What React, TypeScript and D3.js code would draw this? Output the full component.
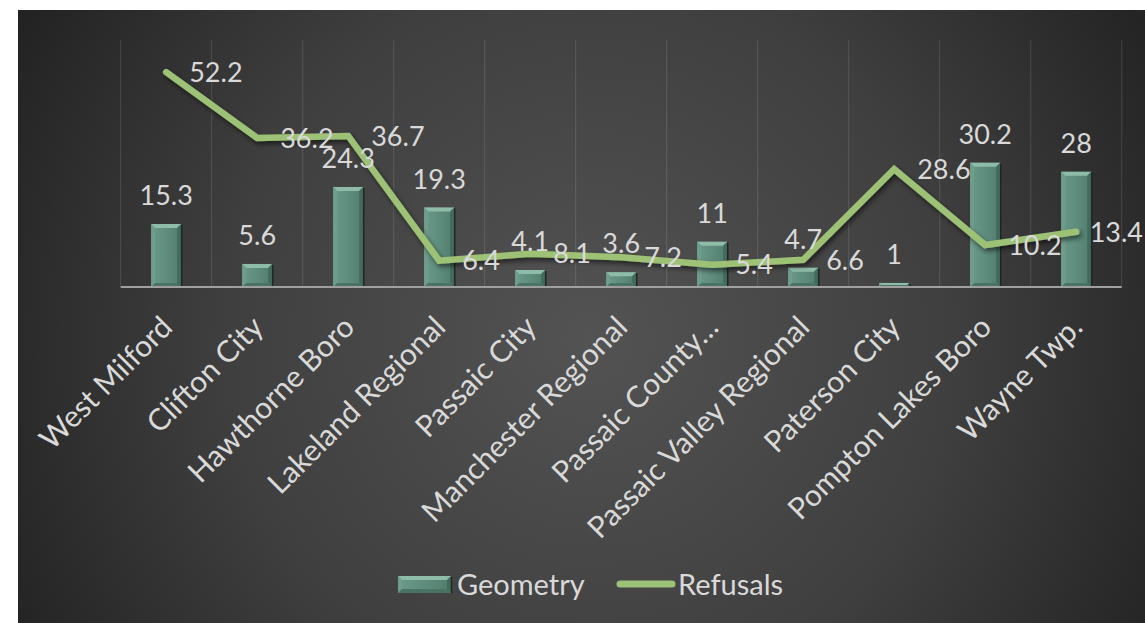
import React from "react";
import * as d3 from "d3";

const categories = [
  "West Milford",
  "Clifton City",
  "Hawthorne Boro",
  "Lakeland Regional",
  "Passaic City",
  "Manchester Regional",
  "Passaic County…",
  "Passaic Valley Regional",
  "Paterson City",
  "Pompton Lakes Boro",
  "Wayne Twp.",
];
const geometry = [15.3, 5.6, 24.3, 19.3, 4.1, 3.6, 11, 4.7, 1, 30.2, 28];
const refusals = [52.2, 36.2, 36.7, 6.4, 8.1, 7.2, 5.4, 6.6, 28.6, 10.2, 13.4];
const yDomain = [0, 60];
const seriesNames = ["Geometry", "Refusals"];

const W = 1145;
const H = 623;
const FONT = "'Gill Sans', 'Gill Sans MT', Lato, 'Open Sans', sans-serif";
const TEXT = "#d9d9d9";
const LINE = "#9dc275";
const LABEL_SIZE = 27;
const CAT_SIZE = 30;
const LEGEND_SIZE = 29;

let measureCtx: CanvasRenderingContext2D | null = null;
function textWidth(s: string, size: number): number {
  if (!measureCtx && typeof document !== "undefined") {
    measureCtx = document.createElement("canvas").getContext("2d");
  }
  if (!measureCtx) return s.length * size * 0.55;
  measureCtx.font = `${size}px Lato, sans-serif`;
  return measureCtx.measureText(s).width;
}

function BevelBar({ x, y, w, h, id }: { x: number; y: number; w: number; h: number; id: string }) {
  const b = Math.min(4, h / 2, w / 2);
  return (
    <g>
      <rect x={x} y={y} width={w} height={h} fill={`url(#${id})`} />
      <polygon points={`${x},${y} ${x + w},${y} ${x + w - b},${y + b} ${x + b},${y + b}`} fill="#8fbca9" />
      <polygon points={`${x},${y} ${x + b},${y + b} ${x + b},${y + h - b} ${x},${y + h}`} fill="#6f9d8b" />
      <polygon points={`${x + w},${y} ${x + w},${y + h} ${x + w - b},${y + h - b} ${x + w - b},${y + b}`} fill="#436a5c" />
      <polygon points={`${x},${y + h} ${x + b},${y + h - b} ${x + w - b},${y + h - b} ${x + w},${y + h}`} fill="#4b7364" />
      <line x1={x + w + 0.5} x2={x + w + 0.5} y1={y + 1} y2={y + h} stroke="#1c2824" strokeWidth={1.5} />
    </g>
  );
}

export default function App() {
  const x0 = 120.7;
  const x1 = 1121.7;
  const yTop = 40;
  const yBot = 287;

  const x = d3.scaleBand<string>().domain(categories).range([x0, x1]).padding(0);
  const y = d3.scaleLinear().domain(yDomain).range([yBot, yTop]);
  const bw = x.bandwidth();
  const barW = bw * 0.33;
  const cx = (c: string) => (x(c) as number) + bw / 2;

  const linePath = d3
    .line<number>()
    .x((_, i) => cx(categories[i]))
    .y((d) => y(d))(refusals) as string;

  const gridXs = categories.map((c) => x(c) as number).concat([x1]);

  return (
    <svg
      width={W}
      height={H}
      style={{ position: "absolute", left: 0, top: 0, display: "block" }}
      fontFamily={FONT}
    >
      <defs>
        <radialGradient id="bg" gradientUnits="userSpaceOnUse" cx={590} cy={340} r={660}>
          <stop offset="0" stopColor="#535353" />
          <stop offset="0.55" stopColor="#3f3f3f" />
          <stop offset="1" stopColor="#222222" />
        </radialGradient>
        <linearGradient id="barFace" x1="0" x2="1" y1="0" y2="0">
          <stop offset="0" stopColor="#6a998a" />
          <stop offset="0.5" stopColor="#5f8d7d" />
          <stop offset="1" stopColor="#527c6d" />
        </linearGradient>
        <filter id="shadow" x="-10%" y="-20%" width="120%" height="150%">
          <feDropShadow dx="2" dy="3" stdDeviation="2.5" floodColor="#000" floodOpacity="0.55" />
        </filter>
      </defs>
      <rect x={0} y={0} width={W} height={H} fill="#ffffff" />
      <rect x={18} y={10} width={W - 18} height={H - 10} fill="url(#bg)" />

      {gridXs.map((gx, i) => (
        <line key={i} x1={gx} x2={gx} y1={yTop} y2={yBot} stroke="#ffffff" strokeOpacity={0.13} strokeWidth={1} />
      ))}

      {geometry.map((v, i) => {
        const c = categories[i];
        const bx = cx(c) - barW / 2;
        const by = y(v);
        return <BevelBar key={i} id="barFace" x={bx} y={by} w={barW} h={yBot - by} />;
      })}

      <line x1={x0} x2={x1} y1={yBot} y2={yBot} stroke="#a0a0a0" strokeWidth={2} />

      <path
        d={linePath}
        fill="none"
        stroke={LINE}
        strokeWidth={6.5}
        strokeLinejoin="miter"
        strokeLinecap="round"
        filter="url(#shadow)"
      />

      {geometry.map((v, i) => (
        <text
          key={`gl${i}`}
          x={cx(categories[i])}
          y={y(v) - 19}
          textAnchor="middle"
          fontSize={LABEL_SIZE}
          fill={TEXT}
        >
          {String(v)}
        </text>
      ))}

      {refusals.map((v, i) => {
        const s = String(v);
        const tw = textWidth(s, LABEL_SIZE);
        const lx = Math.min(cx(categories[i]) + 23, W - 2 - tw);
        return (
          <text
            key={`rl${i}`}
            x={lx}
            y={y(v)}
            dy="0.36em"
            textAnchor="start"
            fontSize={LABEL_SIZE}
            fill={TEXT}
          >
            {s}
          </text>
        );
      })}

      {categories.map((c, i) => (
        <text
          key={`c${i}`}
          transform={`translate(${cx(c) + 8},${yBot + 42}) rotate(-45)`}
          textAnchor="end"
          fontSize={CAT_SIZE}
          fill={TEXT}
        >
          {c}
        </text>
      ))}

      <g>
        <BevelBar id="barFace" x={398} y={576} w={53} h={17} />
        <text x={457} y={585} dy="0.36em" fontSize={LEGEND_SIZE} fill={TEXT}>
          {seriesNames[0]}
        </text>
        <line x1={620} x2={672} y1={584} y2={584} stroke={LINE} strokeWidth={7} strokeLinecap="round" />
        <text x={678} y={585} dy="0.36em" fontSize={LEGEND_SIZE} fill={TEXT}>
          {seriesNames[1]}
        </text>
      </g>
    </svg>
  );
}
